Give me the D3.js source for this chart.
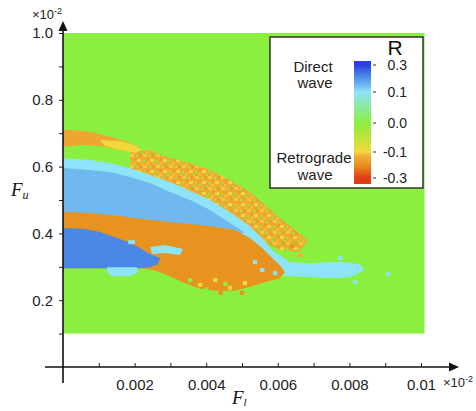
<!DOCTYPE html>
<html><head><meta charset="utf-8">
<script src="https://cdn.jsdelivr.net/npm/d3@7"></script>
<style>body{margin:0;background:#fff}svg{display:block}</style>
</head><body><svg id="c" width="476" height="411"></svg>
<script>
// ---- data (Fl and Fu in units of 10^-2) ----
const xTicks = [0.001,0.002,0.003,0.004,0.005,0.006,0.007,0.008,0.009,0.01];
const xTickLabels = {0.002:"0.002",0.004:"0.004",0.006:"0.006",0.008:"0.008",0.01:"0.01"};
const yTicks = [0.1,0.2,0.3,0.4,0.5,0.6,0.7,0.8,0.9,1.0];
const yTickLabels = {0.2:"0.2",0.4:"0.4",0.6:"0.6",0.8:"0.8",1.0:"1.0"};
const fieldFl = [0, 0.0101];
const fieldFu = [0.1, 1.0];
const rStops  = [-0.3, -0.2, -0.13, -0.1, 0, 0.1, 0.15, 0.22, 0.3];
const rColors = ["#e03c16","#e8921f","#f0ae38","#f3d83c","#8aef3e","#8de4f8","#6fb9f0","#4b87e6","#2c3fe2"];
const legendTicks = [0.3, 0.1, 0.0, -0.1, -0.3];
const legendTickLabels = ["0.3","0.1","0.0","-0.1","-0.3"];

// regions of constant R, polygons [Fl, Fu]
const regionScatterBand = [[.00187,.644],[.00243,.650],[.00299,.626],[.00355,.611],[.00411,.590],[.00466,.560],[.00522,.524],[.00564,.485],[.00606,.446],[.00648,.410],[.00684,.380],[.00662,.344],[.00606,.350],[.00564,.374],[.00522,.404],[.00480,.434],[.00439,.464],[.00383,.494],[.00327,.524],[.00271,.551],[.00215,.572],[.00187,.584]];
const regionUpperBand = [[0,.710],[.00047,.707],[.00089,.701],[.00131,.689],[.00173,.677],[.00209,.662],[.00221,.644],[.00187,.644],[.00145,.653],[.00103,.662],[.00061,.665],[.00020,.662],[0,.659]];
const regionUpperStreak = [[.00103,.680],[.00159,.677],[.00201,.665],[.00221,.650],[.00201,.641],[.00159,.650],[.00117,.662]];
const regionCyanHalo = [[0,.626],[.00075,.620],[.00131,.611],[.00187,.596],[.00243,.575],[.00299,.554],[.00355,.527],[.00411,.500],[.00466,.464],[.00522,.422],[.00556,.386],[.00584,.350],[.00634,.314],[.00690,.311],[.00746,.314],[.00788,.314],[.00830,.308],[.00841,.290],[.00802,.269],[.00746,.266],[.00690,.269],[.00634,.272],[.00578,.278],[.00536,.296],[.00508,.326],[.00383,.380],[0,.425]];
const regionSkyBlue = [[0,.596],[.00075,.590],[.00131,.584],[.00187,.569],[.00243,.551],[.00299,.524],[.00355,.500],[.00411,.470],[.00453,.440],[.00489,.416],[.00508,.401],[.00480,.401],[.00439,.413],[.00383,.419],[.00327,.425],[.00271,.434],[.00215,.440],[.00159,.446],[.00103,.455],[.00047,.461],[0,.461]];
const regionOrange = [[0,.464],[.00075,.461],[.00159,.452],[.00243,.440],[.00327,.431],[.00411,.422],[.00480,.410],[.00522,.386],[.00556,.356],[.00584,.326],[.00606,.305],[.00620,.284],[.00606,.266],[.00564,.254],[.00522,.240],[.00480,.228],[.00425,.228],[.00383,.234],[.00341,.251],[.00299,.272],[.00257,.290],[.00215,.296],[0,.296]];
const regionDeepBlue = [[0,.416],[.00061,.413],[.00103,.404],[.00151,.386],[.00182,.374],[.00215,.356],[.00243,.338],[.00271,.326],[.00265,.308],[.00243,.299],[.00215,.296],[0,.296]];
const regionCyanPatch = [[.00123,.299],[.00207,.299],[.00209,.284],[.00187,.272],[.00137,.272],[.00123,.284]];
const regionCyanFleck1 = [[.00243,.359],[.00285,.365],[.00335,.353],[.00327,.335],[.00285,.341],[.00249,.338]];
const regionCyanFleck2 = [[.00182,.380],[.00201,.380],[.00201,.368],[.00182,.368]];
const regionR = {scatter:-0.13, upper:-0.15, streak:-0.1, halo:0.1, sky:0.15, orange:-0.2, deep:0.22, patch:0.1, fleck1:0.1, fleck2:0.1};
// isolated cells [Fl, Fu, R]
const speckles = [[.00383,.246,-0.1],[.00425,.260,-0.1],[.00466,.237,-0.1],[.00508,.251,-0.1],[.00355,.260,0],[.00453,.249,0],[.00400,.232,0],
  [.00536,.314,0.1],[.00556,.290,0.1],[.00592,.281,0.1],[.00774,.326,0.1],[.00908,.278,0.1],[.00816,.254,0.1],
  [.00640,.362,-0.2],[.00662,.335,-0.13],[.00440,.222,-0.2],[.00500,.222,-0.2]];

// ---- drawing ----
const svg = d3.select("#c");
const font = "'Liberation Sans', Arial, sans-serif";
const x = d3.scaleLinear().domain([0,0.01]).range([63,421]);
const y = d3.scaleLinear().domain([0,1]).range([367,33]);
const color = d3.scaleLinear().domain(rStops).range(rColors).clamp(true);
const line = d3.line().x(d=>x(d[0])).y(d=>y(d[1])).curve(d3.curveLinearClosed);

const defs = svg.append("defs");
const pat = defs.append("pattern").attr("id","speck").attr("patternUnits","userSpaceOnUse").attr("width",13).attr("height",11);
pat.append("rect").attr("width",13).attr("height",11).attr("fill",color(-0.14));
[[0,0,4,3,-0.11],[7,5,4,3,-0.1],[3,8,3,3,-0.12],[9,0,3,3,-0.17],[4,4,3,2,-0.17],[0,6,2,2,0],[11,9,2,2,0],[6,1,2,2,-0.02]]
  .forEach(r=>pat.append("rect").attr("x",r[0]).attr("y",r[1]).attr("width",r[2]).attr("height",r[3]).attr("fill",color(r[4])));

// green field
svg.append("rect").attr("x",x(fieldFl[0])).attr("y",y(fieldFu[1]))
  .attr("width",x(fieldFl[1])-x(fieldFl[0])).attr("height",y(fieldFu[0])-y(fieldFu[1])).attr("fill",color(0));

const regions = [
  [regionScatterBand,"scatter"],[regionUpperBand,"upper"],[regionUpperStreak,"streak"],
  [regionCyanHalo,"halo"],[regionSkyBlue,"sky"],[regionOrange,"orange"],[regionDeepBlue,"deep"],
  [regionCyanPatch,"patch"],[regionCyanFleck1,"fleck1"],[regionCyanFleck2,"fleck2"]];
svg.append("g").selectAll("path").data(regions).join("path")
  .attr("d",d=>line(d[0]))
  .attr("fill",d=>d[1]==="scatter" ? "url(#speck)" : color(regionR[d[1]]));

svg.append("g").selectAll("rect").data(speckles).join("rect")
  .attr("x",d=>x(d[0])-2).attr("y",d=>y(d[1])-2).attr("width",4.3).attr("height",4)
  .attr("fill",d=>color(d[2]));

// axes
const xAxis = d3.axisBottom(x).tickValues(xTicks).tickSizeInner(-4).tickSizeOuter(0).tickPadding(12)
  .tickFormat(d=>xTickLabels[d] || "");
const gx = svg.append("g").attr("transform","translate(0,367)").call(xAxis);
gx.select(".domain").remove();
gx.selectAll("line").attr("stroke","#222");
gx.selectAll("text").attr("font-family",font).attr("font-size",15).attr("fill","#222");

const yAxis = d3.axisLeft(y).tickValues(yTicks).tickSizeInner(4).tickSizeOuter(0).tickPadding(6)
  .tickFormat(d=>yTickLabels[Math.round(d*10)/10] || "");
const gy = svg.append("g").attr("transform","translate(63,0)").call(yAxis);
gy.select(".domain").remove();
gy.selectAll("line").attr("stroke","#222");
gy.selectAll("text").attr("font-family",font).attr("font-size",15).attr("fill","#222");

svg.append("line").attr("x1",45).attr("x2",452).attr("y1",367).attr("y2",367).attr("stroke","#111").attr("stroke-width",1.6);
svg.append("path").attr("d","M459,367 L449,362.5 L449,371.5 Z").attr("fill","#111");
svg.append("line").attr("x1",63).attr("x2",63).attr("y1",29).attr("y2",383).attr("stroke","#111").attr("stroke-width",1.6);
svg.append("path").attr("d","M63,21 L58.5,31 L67.5,31 Z").attr("fill","#111");

// exponent labels
const e1 = svg.append("text").attr("x",32).attr("y",19).attr("font-family",font).attr("font-size",13).attr("fill","#222");
e1.append("tspan").text("×10");
e1.append("tspan").attr("dy",-5).attr("font-size",9).text("-2");
const e2 = svg.append("text").attr("x",443).attr("y",387).attr("font-family",font).attr("font-size",13).attr("fill","#222");
e2.append("tspan").text("×10");
e2.append("tspan").attr("dy",-5).attr("font-size",9).text("-2");

// axis titles
const tx = svg.append("text").attr("x",232).attr("y",404).attr("font-family","'Liberation Serif','Times New Roman',serif")
  .attr("font-style","italic").attr("font-size",19).attr("fill","#111");
tx.append("tspan").text("F");
tx.append("tspan").attr("dy",2).attr("font-size",11).text("l");
const ty = svg.append("text").attr("x",11).attr("y",196).attr("font-family","'Liberation Serif','Times New Roman',serif")
  .attr("font-style","italic").attr("font-size",19).attr("fill","#111");
ty.append("tspan").text("F");
ty.append("tspan").attr("dy",3).attr("font-size",12).text("u");

// legend
svg.append("rect").attr("x",270).attr("y",37).attr("width",153).attr("height",151)
  .attr("fill","#fff").attr("stroke","#333").attr("stroke-width",1.5);
const cbTop = 61, cbBot = 184;
const cbY = d3.scaleLinear().domain(legendTicks).range([65,92,123,152,178]);
const grad = defs.append("linearGradient").attr("id","cb").attr("x1",0).attr("y1",0).attr("x2",0).attr("y2",1);
grad.selectAll("stop").data(rStops.slice().reverse()).join("stop")
  .attr("offset",d=>(cbY(d)-cbTop)/(cbBot-cbTop)).attr("stop-color",d=>color(d));
svg.append("rect").attr("x",354).attr("y",cbTop).attr("width",17).attr("height",cbBot-cbTop).attr("fill","url(#cb)");
svg.append("g").selectAll("line").data(legendTicks).join("line")
  .attr("x1",373).attr("x2",376).attr("y1",d=>cbY(d)).attr("y2",d=>cbY(d)).attr("stroke","#333");
svg.append("g").selectAll("text").data(legendTicks).join("text")
  .attr("x",407).attr("y",d=>cbY(d)+5).attr("text-anchor","end")
  .attr("font-family",font).attr("font-size",14).attr("fill","#222")
  .text((d,i)=>legendTickLabels[i]);
svg.append("text").attr("x",395).attr("y",55).attr("text-anchor","middle").attr("font-family",font).attr("font-size",21).attr("fill","#111").text("R");
const legText = [["Direct",313,72],["wave",315,88],["Retrograde",314,163],["wave",315,180]];
svg.append("g").selectAll("text").data(legText).join("text")
  .attr("x",d=>d[1]).attr("y",d=>d[2]).attr("text-anchor","middle")
  .attr("font-family",font).attr("font-size",15).attr("fill","#222").text(d=>d[0]);
</script></body></html>
